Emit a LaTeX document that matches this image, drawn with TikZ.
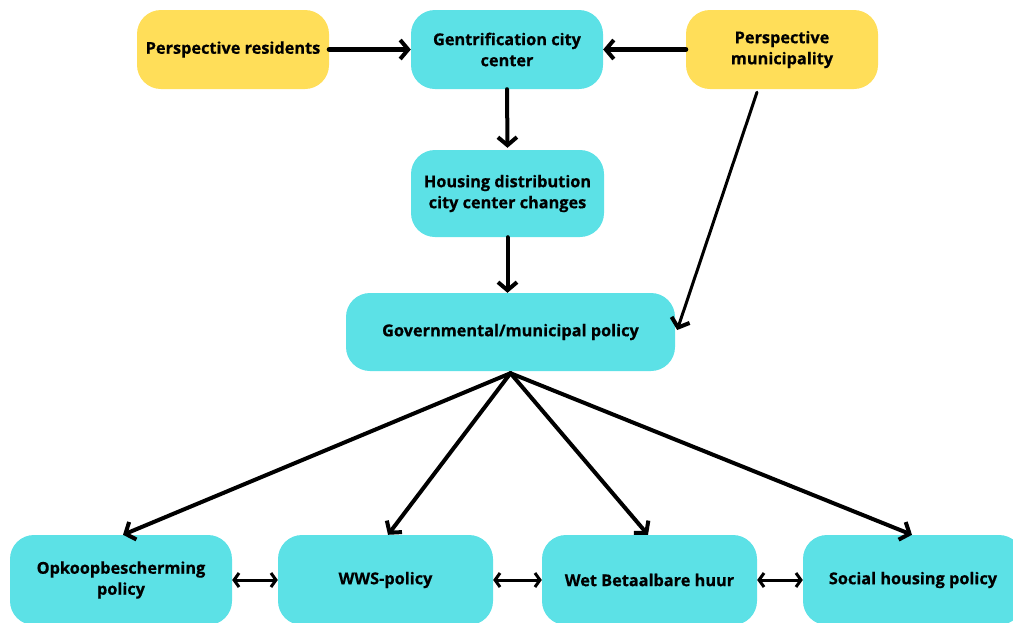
\documentclass[tikz,border=0pt]{standalone}
\usepackage{fontspec}
\setmainfont{Open Sans}[BoldFeatures={FakeBold=0.6}]
\usetikzlibrary{arrows.meta,calc}
\definecolor{cyanbox}{HTML}{5CE1E6}
\definecolor{yellowbox}{HTML}{FFDE59}
\begin{document}
\begin{tikzpicture}[x=1pt,y=-1pt,
  box/.style={rounded corners=24pt, text=black, align=center, inner sep=0pt,
    font=\bfseries\fontsize{16.3}{21}\selectfont},
  ybox/.style={box, fill=yellowbox},
  cbox/.style={box, fill=cyanbox},
  arr/.style={-{Straight Barb[length=8pt,width=19pt,line width=4pt]}, line width=4pt, line cap=round},
  darr/.style={{Straight Barb[length=5pt,width=14pt,line width=3pt]}-{Straight Barb[length=5pt,width=14pt,line width=3pt]}, line width=3pt}
]
\useasboundingbox (0,0) rectangle (1013,622);
\clip (0,0) rectangle (1013,622);
\node[ybox, minimum width=192pt, minimum height=79pt] (res) at (233,49.5) {Perspective residents};
\node[cbox, minimum width=192pt, minimum height=79pt] (gen) at (507,49.5) {Gentrification city\\center};
\node[ybox, minimum width=192pt, minimum height=79pt] (mun) at (782,49.5) {Perspective\\municipality};
\node[cbox, minimum width=193pt, minimum height=87pt] (hou) at (507.5,193.5) {Housing distribution\\city center changes};
\node[cbox, minimum width=329pt, minimum height=78pt] (gov) at (510.5,332) {Governmental/municipal policy};
\node[cbox, minimum width=222pt, minimum height=90pt] (opk) at (121,580) {Opkoopbescherming\\policy};
\node[cbox, minimum width=215pt, minimum height=90pt] (wws) at (385.5,580) {WWS-policy};
\node[cbox, minimum width=215pt, minimum height=90pt] (wet) at (649.5,580) {Wet Betaalbare huur};
\node[cbox, minimum width=220pt, minimum height=90pt] (soc) at (913,580) {Social housing policy};

\draw[arr, line width=5pt] (res.east) -- (gen.west);
\draw[arr, line width=5pt] (mun.west) -- (gen.west -| gen.east);
\draw[arr] (gen.south) -- ($(hou.north)+(0,-2)$);
\draw[arr] (hou.south) -- (hou.south |- gov.north);
\draw[arr, line width=3pt] ($(mun.south)+(-25,3)$) -- ($(gov.east)+(2,-2)$);
\coordinate (fan) at ($(gov.south)+(0,2)$);
\draw[arr] (fan) -- ($(opk.north)+(2,0)$);
\draw[arr] (fan) -- ($(wws.north)+(2.5,0)$);
\draw[arr] (fan) -- ($(wet.north)+(-1.5,0)$);
\draw[arr] (fan) -- ($(soc.north)+(-1,0)$);
\draw[darr] (opk.east) -- (wws.west);
\draw[darr] (wws.west -| wws.east) -- (wet.west);
\draw[darr] (wet.west -| wet.east) -- (soc.west);
\end{tikzpicture}
\end{document}
